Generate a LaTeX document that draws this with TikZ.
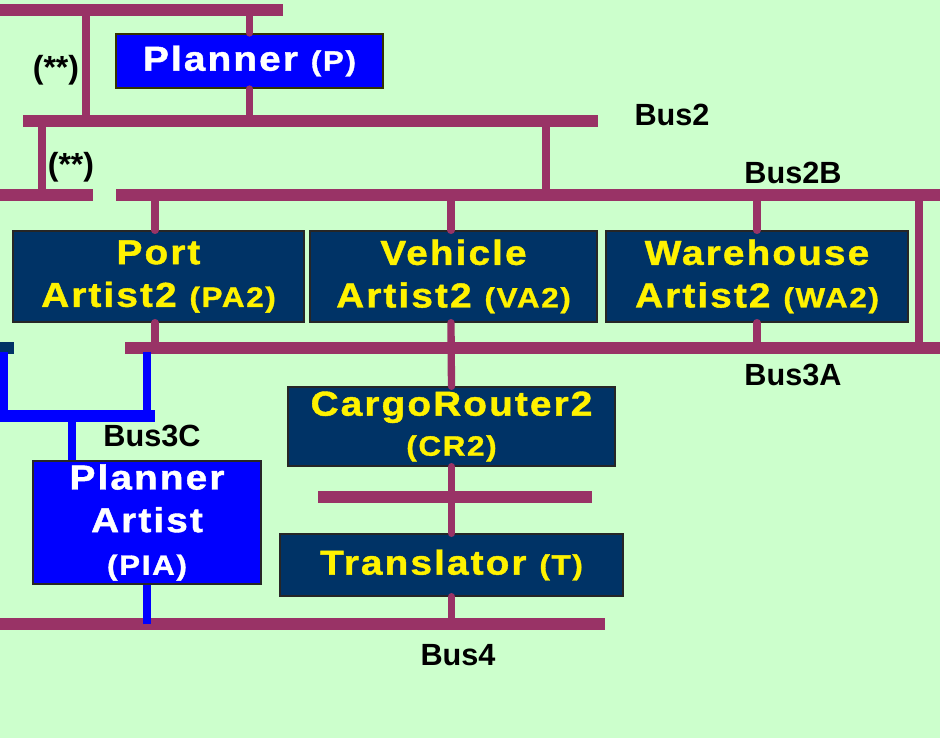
\documentclass[tikz,border=0pt]{standalone}
\usepackage{fontspec}
\newfontfamily\lab{Liberation Sans}[LetterSpace=6,FakeStretch=1.12,BoldFeatures={FakeBold=1.2}]
\newfontfamily\buslab{Liberation Sans}
\usetikzlibrary{positioning}
\definecolor{bg}{HTML}{CCFFCC}
\definecolor{busc}{HTML}{993366}
\definecolor{navy}{HTML}{003366}
\definecolor{olive}{HTML}{333300}
\newcommand\sml[1]{{\fontsize{21}{32}\selectfont #1}}

\begin{document}
\begin{tikzpicture}[x=0.75pt,y=-0.75pt,
  bus/.style={busc,line width=9pt},
  tap/.style={busc,line width=5.5pt,line cap=round},
  bluebus/.style={blue,line width=9pt},
  bluetap/.style={blue,line width=6pt},
  artist/.style={draw=black!85,line width=1pt,fill=navy,text=yellow,align=center,
                 inner sep=0pt,font={\lab\bfseries\fontsize{26}{32}\selectfont}},
  planbox/.style={artist,draw=olive,line width=1.5pt,fill=blue,text=white},
  lbl/.style={inner sep=0pt,font={\buslab\bfseries\fontsize{23}{26}\selectfont}}
]
\fill[bg] (0,0) rectangle (940,738);
\useasboundingbox (0,0) rectangle (940,738);

\coordinate (top-w) at (0,10);
\coordinate (top-e) at (283,10);
\coordinate (bus2-w) at (23,121);
\coordinate (bus2-e) at (598,121);
\coordinate (bus2b-lw) at (0,195);
\coordinate (bus2b-le) at (93,195);
\coordinate (bus2b-w) at (116,195);
\coordinate (bus2b-e) at (940,195);
\coordinate (bus3a-w) at (125,348);
\coordinate (bus3a-e) at (940,348);
\coordinate (bus-ct-w) at (318,497);
\coordinate (bus-ct-e) at (592,497);
\coordinate (bus4-w) at (0,624);
\coordinate (bus4-e) at (605,624);
\coordinate (bus3c-w) at (0,416);
\coordinate (bus3c-e) at (155,416);
\coordinate (link-a) at (86,10);
\coordinate (link-b) at (42,121);
\coordinate (link-c) at (546,121);
\coordinate (link-d) at (919,195);
\coordinate (blue-a) at (4,352);
\coordinate (blue-b) at (147,352);
\coordinate (pia-in) at (72,416);

\node[planbox,minimum width=200.25pt,minimum height=40.5pt] (p) at (249.5,61) {Planner \sml{(P)}};
\node[artist,minimum width=218.25pt,minimum height=68.25pt] (pa2) at (158.5,276.5) {Port\\Artist2 \sml{(PA2)}};
\node[artist,minimum width=215.25pt,minimum height=68.25pt] (va2) at (453.5,276.5) {Vehicle\\Artist2 \sml{(VA2)}};
\node[artist,minimum width=226.5pt,minimum height=68.25pt] (wa2) at (757,276.5) {Warehouse\\Artist2 \sml{(WA2)}};
\node[artist,minimum width=245.25pt,minimum height=59.25pt] (cr2) at (451.5,426.5) {CargoRouter2\\[-2pt]\sml{(CR2)}};
\node[artist,minimum width=257.25pt,minimum height=46.5pt] (t) at (451.5,565) {Translator \sml{(T)}};
\node[planbox,draw=black!85,line width=1pt,minimum width=171pt,minimum height=92.25pt] (pia) at (147,522.5) {Planner\\Artist\\\sml{(PIA)}};

\begin{scope}[on background layer/.try]
\draw[bus] (top-w) -- (top-e);
\draw[bus] (bus2-w) -- (bus2-e);
\draw[bus] (bus2b-lw) -- (bus2b-le);
\draw[bus] (bus2b-w) -- (bus2b-e);
\draw[bus] (bus3a-w) -- (bus3a-e);
\draw[bus] (bus-ct-w) -- (bus-ct-e);
\draw[bus] (bus4-w) -- (bus4-e);
\end{scope}

\draw[tap] (link-a) -- (link-a |- bus2-w);
\draw[tap] (link-b) -- (link-b |- bus2b-w);
\draw[tap] (link-c) -- (link-c |- bus2b-w);
\draw[tap] (link-d) -- (link-d |- bus3a-w);
\draw[tap] (p.north |- top-w) -- (p.north);
\draw[tap] (p.south) -- (p.south |- bus2-w);
\draw[tap] ([xshift=-2.6pt]pa2.north |- bus2b-w) -- ([xshift=-2.6pt]pa2.north);
\draw[tap] ([xshift=-2.6pt]pa2.south) -- ([xshift=-2.6pt]pa2.south |- bus3a-w);
\draw[tap] ([xshift=-1.9pt]va2.north |- bus2b-w) -- ([xshift=-1.9pt]va2.north);
\draw[tap] ([xshift=-1.9pt]va2.south) -- (cr2.north);
\draw[tap] (wa2.north |- bus2b-w) -- (wa2.north);
\draw[tap] (wa2.south) -- (wa2.south |- bus3a-w);
\draw[tap] (cr2.south) -- (t.north);
\draw[tap] (t.south) -- (t.south |- bus4-w);

\fill[navy] (0,342) rectangle (14,354);
\draw[bluebus] (bus3c-w) -- (bus3c-e);
\draw[bluetap] (blue-a) -- (blue-a |- bus3c-w);
\draw[bluetap] (blue-b) -- (blue-b |- bus3c-w);
\draw[bluetap] (pia-in) -- (pia-in |- pia.north);
\draw[bluetap] (pia.south) -- (pia.south |- bus4-w);

\node[lbl] (bus2-lbl) at (672,115) {Bus2};
\node[lbl] (bus2b-lbl) at (793,173) {Bus2B};
\node[lbl] (bus3a-lbl) at (793,375) {Bus3A};
\node[lbl] (bus3c-lbl) at (152,436) {Bus3C};
\node[lbl] (bus4-lbl) at (458,655) {Bus4};
\node[lbl,font={\buslab\bfseries\fontsize{24}{26}\selectfont}] (star-a) at (56,70) {(**)};
\node[lbl,font={\buslab\bfseries\fontsize{24}{26}\selectfont}] (star-b) at (71,167) {(**)};
\end{tikzpicture}
\end{document}
